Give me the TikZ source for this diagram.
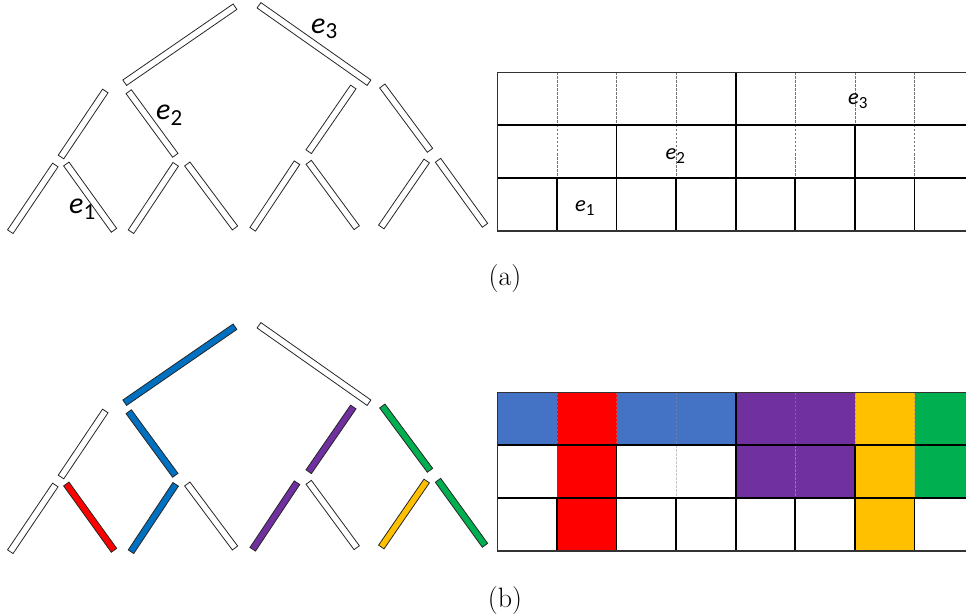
\documentclass[tikz,border=0pt]{standalone}
\usepackage{fontspec}
\usetikzlibrary{calc}
\newfontfamily\carl{Carlito}
\definecolor{treeblue}{HTML}{0070C0}
\definecolor{cellblue}{HTML}{4472C4}
\definecolor{cellred}{HTML}{FF0000}
\definecolor{cellpurple}{HTML}{7030A0}
\definecolor{cellyellow}{HTML}{FFC000}
\definecolor{cellgreen}{HTML}{00B050}
\newcommand\treebar[5]{%
  \coordinate (p) at (#1,#2); \coordinate (q) at (#3,#4);
  \draw[barline, fill=#5] ($(p)!3.3pt!90:(q)$) -- ($(q)!3.3pt!-90:(p)$) --
    ($(q)!3.3pt!90:(p)$) -- ($(p)!3.3pt!-90:(q)$) -- cycle;}
\newcommand\bigE[1]{{\fontsize{30}{36}\selectfont\carl\itshape e}\raisebox{-5.5pt}{\fontsize{23}{28}\selectfont\carl #1}}
\newcommand\smallE[1]{{\fontsize{22.5}{27}\selectfont\carl\itshape e}\raisebox{-4pt}{\fontsize{17}{21}\selectfont\carl #1}}
\tikzset{
  barline/.style={draw=black!85, line width=0.8pt, line join=miter},
  gridthick/.style={draw=black, line width=1.9pt},
  gridborder/.style={draw=black!80, line width=1.5pt},
  griddash/.style={draw=black!55, line width=0.6pt, dash pattern=on 2.2pt off 1.8pt},
  caption/.style={font=\fontsize{28}{34}\selectfont, inner sep=0pt, anchor=base},
  lab/.style={inner sep=0pt, anchor=base west},
}
\begin{document}
\begin{tikzpicture}[x=1pt, y=-1pt]
\clip (0,0) rectangle (966,615);
\fill[white] (0,0) rectangle (966,615);

% ---------- (a) tree ----------
\treebar{124.7}{82.7}{235}{6.7}{white}
\treebar{259}{5.3}{369}{82.7}{white}
\treebar{61}{157}{105.3}{91}{white}
\treebar{128.7}{91.7}{175.3}{155.3}{white}
\treebar{308.7}{151.7}{353.3}{87}{white}
\treebar{382.3}{86}{430}{150.3}{white}
\treebar{10.3}{231.7}{55.3}{165}{white}
\treebar{66.3}{164}{114}{230.3}{white}
\treebar{131}{231.7}{175.7}{164.3}{white}
\treebar{187.3}{164}{235}{228}{white}
\treebar{252.7}{229.3}{297}{162.7}{white}
\treebar{308.7}{162.3}{356.7}{227.7}{white}
\treebar{381.3}{227}{426.7}{161}{white}
\treebar{438}{160.3}{485}{225.3}{white}
\node[lab] (te3) at (311,33.5) {\bigE{3}};
\node[lab] (te2) at (156,120) {\bigE{2}};
\node[lab] (te1) at (69,213.5) {\bigE{1}};

% ---------- (a) grid ----------
\def\gx{497.3}\def\gw{59.6}
\def\ra{72.5}\def\rb{125.3}\def\rc{178.2}\def\rd{231}
% dashed
\foreach \i in {1,2,3,5,6,7} \draw[griddash] ({\gx+\i*\gw},\ra) -- ({\gx+\i*\gw},\rb);
\foreach \i in {1,3,5,7} \draw[griddash] ({\gx+\i*\gw},\rb) -- ({\gx+\i*\gw},\rc);
% solid
\draw[gridthick] (\gx,\rb) -- (975,\rb);
\draw[gridthick] (\gx,\rc) -- (975,\rc);
\draw[gridthick] ({\gx+4*\gw},\ra) -- ({\gx+4*\gw},\rb);
\foreach \i in {2,4,6} \draw[gridthick] ({\gx+\i*\gw},\rb) -- ({\gx+\i*\gw},\rc);
\foreach \i in {1,...,7} \draw[gridthick] ({\gx+\i*\gw},\rc) -- ({\gx+\i*\gw},\rd);
\draw[gridborder] (975,\ra) -- (\gx,\ra) -- (\gx,\rd) -- (975,\rd);
\node[lab] (ge3) at (848,105) {\smallE{3}};
\node[lab] (ge2) at (665.5,160) {\smallE{2}};
\node[lab] (ge1) at (575,211.7) {\smallE{1}};

\node[caption] (capa) at (505,285.5) {(a)};

% ---------- (b) tree ----------
\begin{scope}[yshift=-320pt]
\treebar{124.7}{82.7}{235}{6.7}{treeblue}
\treebar{259}{5.3}{369}{82.7}{white}
\treebar{61}{157}{105.3}{91}{white}
\treebar{128.7}{91.7}{175.3}{155.3}{treeblue}
\treebar{308.7}{151.7}{353.3}{87}{cellpurple}
\treebar{382.3}{86}{430}{150.3}{cellgreen}
\treebar{10.3}{231.7}{55.3}{165}{white}
\treebar{66.3}{164}{114}{230.3}{cellred}
\treebar{131}{231.7}{175.7}{164.3}{treeblue}
\treebar{187.3}{164}{235}{228}{white}
\treebar{252.7}{229.3}{297}{162.7}{cellpurple}
\treebar{308.7}{162.3}{356.7}{227.7}{white}
\treebar{381.3}{227}{426.7}{161}{cellyellow}
\treebar{438}{160.3}{485}{225.3}{cellgreen}

% ---------- (b) grid ----------
\fill[cellblue] (\gx,\ra) rectangle ({\gx+\gw},\rb);
\fill[cellred] ({\gx+\gw},\ra) rectangle ({\gx+2*\gw},\rd);
\fill[cellblue] ({\gx+2*\gw},\ra) rectangle ({\gx+4*\gw},\rb);
\fill[cellpurple] ({\gx+4*\gw},\ra) rectangle ({\gx+6*\gw},\rc);
\fill[cellyellow] ({\gx+6*\gw},\ra) rectangle ({\gx+7*\gw},\rd);
\fill[cellgreen] ({\gx+7*\gw},\ra) rectangle (975,\rc);
\foreach \i in {1,2,3,5,6,7} \draw[griddash, draw=black!45, opacity=0.6] ({\gx+\i*\gw},\ra) -- ({\gx+\i*\gw},\rb);
\foreach \i in {3,5,7} \draw[griddash, draw=black!35, opacity=0.6] ({\gx+\i*\gw},\rb) -- ({\gx+\i*\gw},\rc);
\draw[gridthick] (\gx,\rb) -- (975,\rb);
\draw[gridthick] (\gx,\rc) -- (975,\rc);
\draw[gridthick] ({\gx+4*\gw},\ra) -- ({\gx+4*\gw},\rb);
\foreach \i in {2,4,6} \draw[gridthick] ({\gx+\i*\gw},\rb) -- ({\gx+\i*\gw},\rc);
\foreach \i in {1,...,7} \draw[gridthick] ({\gx+\i*\gw},\rc) -- ({\gx+\i*\gw},\rd);
\draw[gridborder] (975,\ra) -- (\gx,\ra) -- (\gx,\rd) -- (975,\rd);
\end{scope}

\node[caption] (capb) at (505,607.5) {(b)};
\end{tikzpicture}
\end{document}
